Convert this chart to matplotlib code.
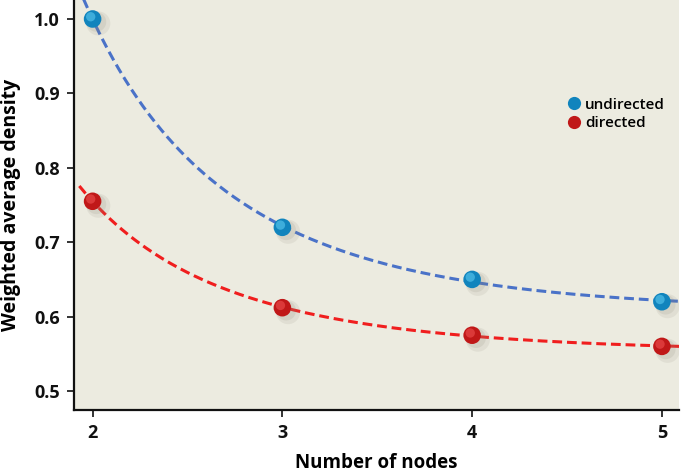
import numpy as np
import matplotlib
matplotlib.use("Agg")
import matplotlib.pyplot as plt
from matplotlib.lines import Line2D

nodes = [2, 3, 4, 5]
undirected = [1.0, 0.72, 0.65, 0.62]
directed = [0.755, 0.612, 0.575, 0.56]
xticks = [2, 3, 4, 5]
yticks = [0.5, 0.6, 0.7, 0.8, 0.9, 1.0]

plt.rcParams['font.family'] = ['Open Sans', 'DejaVu Sans']

fig = plt.figure(figsize=(6.85, 4.74), dpi=100)
ax = fig.add_axes([74/685, 1 - 410/474, (679-74)/685, 410/474])
ax.set_facecolor('#ecebe0')
fig.patch.set_facecolor('white')

ax.set_xlim(1.902, 5.090)
ax.set_ylim(0.4745, 1.0255)

def fit_curve(x, y, x0, x1):
    xi = 1.0 / np.asarray(x, float)
    c = np.polyfit(xi, y, 2)
    xs = np.linspace(x0, x1, 300)
    return xs, np.polyval(c, 1.0 / xs)

xs, ys = fit_curve(nodes, undirected, 1.95, 5.12)
ax.plot(xs, ys, ls=(0, (3.2, 1.6)), color='#4a72c8', lw=2.2, zorder=2)
xs, ys = fit_curve(nodes, directed, 1.93, 5.12)
ax.plot(xs, ys, ls=(0, (3.2, 1.6)), color='#f01e1e', lw=2.2, zorder=2)

def balls(x, y, base, light):
    x = np.asarray(x, float)
    y = np.asarray(y, float)
    ax.scatter(x + 0.03, y - 0.006, s=300, color='#8a8878', alpha=0.12,
               edgecolors='none', zorder=3)
    ax.scatter(x + 0.02, y - 0.004, s=200, color='#8a8878', alpha=0.15,
               edgecolors='none', zorder=3)
    ax.scatter(x, y, s=160, color=base, edgecolors='none', zorder=4)
    ax.scatter(x - 0.01, y + 0.003, s=45, color=light, edgecolors='none',
               alpha=0.6, zorder=5)

balls(nodes, undirected, '#1184bd', '#5ccaf0')
balls(nodes, directed, '#c01818', '#ee5050')

handles = [Line2D([], [], ls='none', marker='o', ms=9.5, color='#1184bd', mec='none'),
           Line2D([], [], ls='none', marker='o', ms=9.5, color='#c01818', mec='none')]
ax.legend(handles, ['undirected', 'directed'], loc='center left',
          bbox_to_anchor=(0.798, 1 - 114/410), frameon=False,
          handletextpad=0.15, labelspacing=0.3, borderpad=0, handlelength=1.2,
          prop={'weight': 'semibold', 'size': 11})

ax.set_xticks(xticks)
ax.set_yticks(yticks)
ax.set_xticklabels([str(v) for v in xticks])
ax.set_yticklabels([f'{v:.1f}' for v in yticks])
for s in ['top', 'right']:
    ax.spines[s].set_visible(False)
for s in ['left', 'bottom']:
    ax.spines[s].set_linewidth(1.6)
    ax.spines[s].set_color('#111111')
ax.tick_params(axis='both', direction='out', length=5, width=1.2, labelsize=13,
               colors='#111111', pad=5)
for lbl in ax.get_xticklabels() + ax.get_yticklabels():
    lbl.set_fontweight('bold')
ax.set_xlabel('Number of nodes', fontsize=13.5, fontweight='bold', va='center')
ax.set_ylabel('Weighted average density', fontsize=14, fontweight='bold', va='center')
ax.xaxis.set_label_coords(0.5, (410 - 463) / 410)
ax.yaxis.set_label_coords((11 - 74) / 605, 0.5)

fig.savefig('out.png', dpi=100)
